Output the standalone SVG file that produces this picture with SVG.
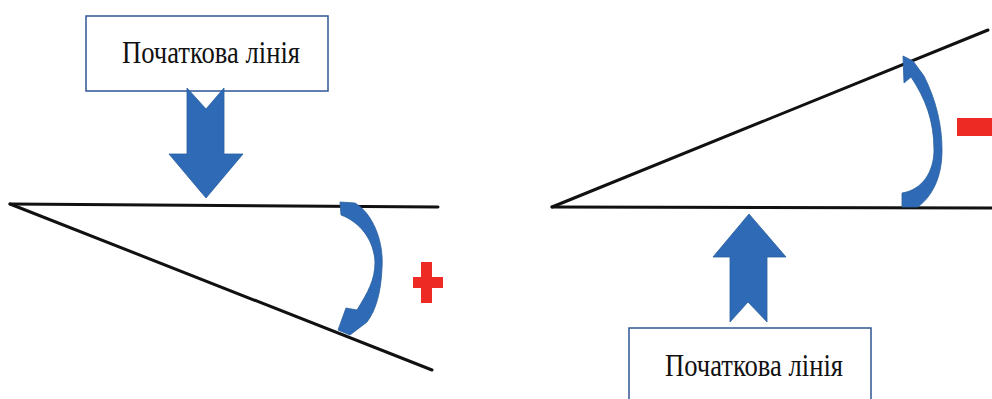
<svg xmlns="http://www.w3.org/2000/svg" width="992" height="399" viewBox="0 0 992 399">
<style>
.box{fill:#fff;stroke:#2F5597;stroke-width:1.5}
.lbl{font-family:"Liberation Serif","Times New Roman",serif;font-size:32px;fill:#111}
.ln{stroke:#111;stroke-width:3;stroke-linecap:round;fill:none}
.blue{fill:#2E6AB5;stroke:#2A5F9E;stroke-width:0.8;stroke-linejoin:round}
.red{fill:#EE2A24}
</style>
<rect width="992" height="399" fill="#fff"/>
<g id="lines">
<line class="ln" x1="10" y1="204" x2="438" y2="207"/>
<line class="ln" x1="10" y1="204" x2="432" y2="370"/>
<line class="ln" x1="552" y1="207" x2="992" y2="208"/>
<line class="ln" x1="552" y1="207" x2="988" y2="30"/>
</g>
<g id="box-top">
<rect class="box" x="86" y="16" width="242" height="75"/>
<text class="lbl" x="122" y="63" textLength="178" lengthAdjust="spacingAndGlyphs">Початкова лінія</text>
</g>
<g id="box-bottom">
<rect class="box" x="629" y="328" width="242" height="80"/>
<text class="lbl" x="665" y="376" textLength="178" lengthAdjust="spacingAndGlyphs">Початкова лінія</text>
</g>
<g id="connectors">
<path id="arrow-down" class="blue" d="M187,88 L206,109 L224,88 L224,154 L243,154 L206,198 L169,154 L187,154 Z"/>
<path id="arrow-up" class="blue" d="M730,322 L748,302 L767,322 L767,257 L786,257 L749,214 L713,257 L730,257 Z"/>
<path id="arc-left" class="blue" d="M340,202 L355,203 C372,213 384,240 382,268 C381,292 376,310 367,322 L350,335 L338,330 L346,308 L357,310 C368,292 375,280 375,262 C374,240 360,222 341,215 Z"/>
<path id="arc-right" class="blue" d="M902,207 L918,207 C932,196 942,178 942,150 C942,125 936,100 924,76 L913,61 L903,56 L904,83 L911,77 C925,98 934,120 934,150 C934,172 922,190 902,193 Z"/>
</g>
<g id="plus">
<rect class="red" x="413" y="277" width="30" height="11"/>
<rect class="red" x="421" y="262" width="11" height="41"/>
</g>
<g id="minus">
<rect class="red" x="957" y="118" width="35" height="18"/>
</g>
</svg>
